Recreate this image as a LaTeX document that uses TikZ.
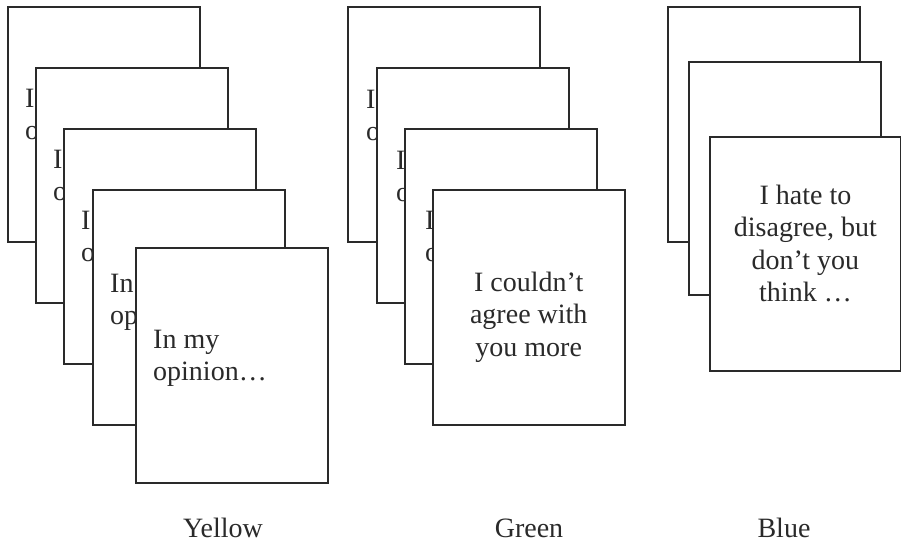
\documentclass[tikz,border=0pt]{standalone}
\usepackage{fontspec}
\setmainfont{Liberation Serif}
\usetikzlibrary{calc}

\definecolor{ink}{HTML}{2A2A2A}

% Text block whose anchor is the baseline of its first line
\newcommand{\cardlines}[2]{\parbox[t]{170pt}{#1\fontsize{28}{32.5}\selectfont #2}}

\tikzset{
  card/.style={draw=ink, line width=1.5pt, fill=white, rectangle,
    inner sep=0pt, minimum width=192pt, minimum height=235pt, anchor=north west},
  frontcard/.style={card, line width=1.9pt},
  lefttext/.style={anchor=base west, inner sep=0pt, text=ink},
  midtext/.style={anchor=base, inner sep=0pt, text=ink},
  caption/.style={anchor=base, inner sep=0pt, text=ink, font=\fontsize{28}{32}\selectfont}
}

\begin{document}
\begin{tikzpicture}[x=1pt, y=-1pt]
\useasboundingbox[fill=white] (0,0) rectangle (901,542);

% ---- Yellow stack (each card partly covered by the next one) ----
\node[card] (Y1) at (7,6) {};
\node[lefttext] (Y1t) at ($(Y1.north west)+(18,101)$) {\cardlines{\raggedright}{I\\o}};
\node[card] (Y2) at (35,67) {};
\node[lefttext] (Y2t) at ($(Y2.north west)+(18,101)$) {\cardlines{\raggedright}{I\\o}};
\node[card] (Y3) at (63,128) {};
\node[lefttext] (Y3t) at ($(Y3.north west)+(18,101)$) {\cardlines{\raggedright}{I\\o}};
\node[card] (Y4) at (92,189) {};
\node[lefttext] (Y4t) at ($(Y4.north west)+(18,103)$) {\cardlines{\raggedright}{In\\op}};
\node[card] (Y5) at (135,247) {};
\node[lefttext] (Y5t) at ($(Y5.north west)+(18,101)$) {\cardlines{\raggedright}{In my\\opinion…}};

% ---- Green stack ----
\node[card] (G1) at (347,6) {};
\node[lefttext] (G1t) at ($(G1.north west)+(19,102)$) {\cardlines{\raggedright}{I\\o}};
\node[card] (G2) at (376,67) {};
\node[lefttext] (G2t) at ($(G2.north west)+(20,102)$) {\cardlines{\raggedright}{I\\o}};
\node[card] (G3) at (404,128) {};
\node[lefttext] (G3t) at ($(G3.north west)+(21,101)$) {\cardlines{\raggedright}{I\\o}};
\node[card] (G4) at (432,189) {};
\node[midtext] (G4t) at ($(G4.north)+(0,102)$) {\cardlines{\centering}{I couldn’t\\agree with\\you more}};

% ---- Blue stack ----
\node[card] (B1) at (667,6) {};
\node[card, minimum height=233pt] (B2) at (688,61) {};
\node[frontcard, minimum width=191pt, minimum height=234pt] (B3) at (709,136) {};
\node[midtext] (B3t) at ($(B3.north)+(0,68)$) {\cardlines{\centering}{I hate to\\disagree, but\\don’t you\\think …}};

% ---- Captions ----
\node[caption] (ly) at (223,537) {Yellow};
\node[caption] (lg) at (529,537) {Green};
\node[caption] (lb) at (784,537) {Blue};
\end{tikzpicture}
\end{document}
